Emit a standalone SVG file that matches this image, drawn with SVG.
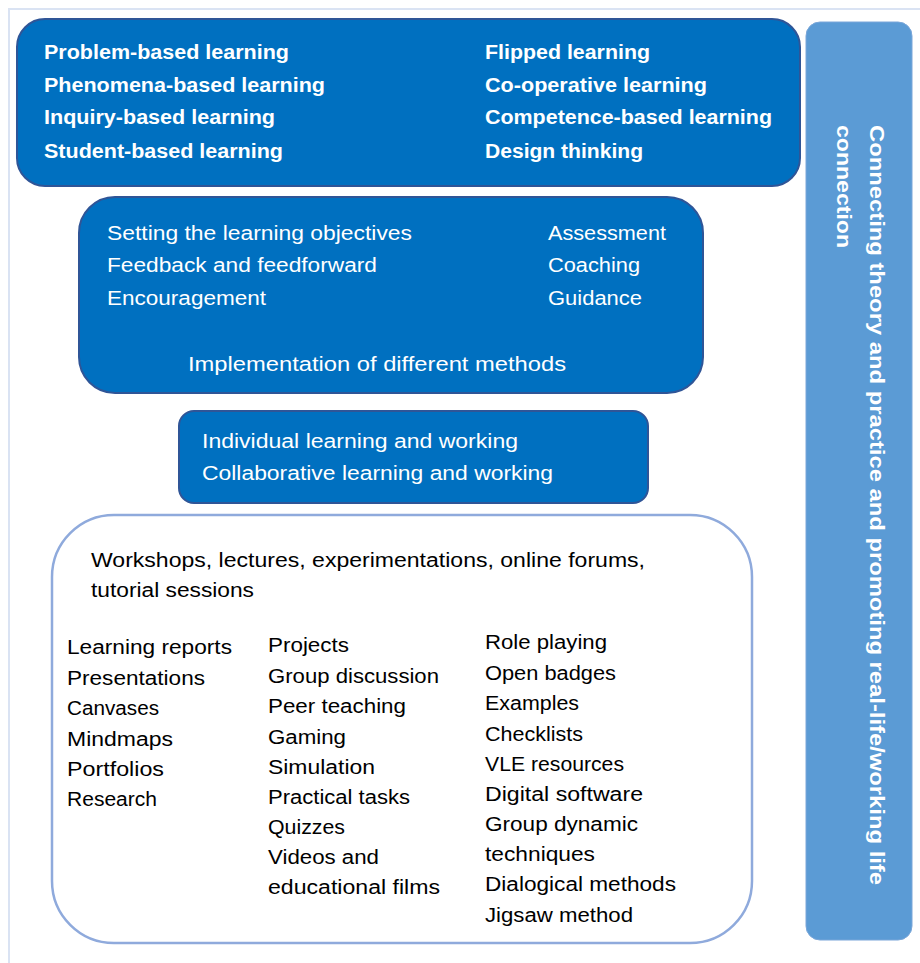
<svg xmlns="http://www.w3.org/2000/svg" width="920" height="963" viewBox="0 0 920 963">
<style>
.dark{fill:#0070c0;stroke:#2f5597;stroke-width:2}
.side{fill:#5b9bd5;stroke:#7aa6d9;stroke-width:1}
.open{fill:#ffffff;stroke:#8faadc;stroke-width:2.5}
text{font-family:"Liberation Sans",Arial,sans-serif;font-size:20px}
.b{font-weight:bold;fill:#ffffff}
.w{fill:#ffffff}
.k{fill:#000000}
</style>
<rect x="0" y="0" width="920" height="963" fill="#ffffff"/>
<path d="M9 963 V9 H920" fill="none" stroke="#dae3f3" stroke-width="2"/>
<g id="approaches">
<rect class="dark" x="17" y="19" width="783" height="167" rx="28"/>
<text class="b" x="44" y="59" textLength="245" lengthAdjust="spacingAndGlyphs">Problem-based learning</text>
<text class="b" x="44" y="92" textLength="281" lengthAdjust="spacingAndGlyphs">Phenomena-based learning</text>
<text class="b" x="44" y="124" textLength="231" lengthAdjust="spacingAndGlyphs">Inquiry-based learning</text>
<text class="b" x="44" y="158" textLength="239" lengthAdjust="spacingAndGlyphs">Student-based learning</text>
<text class="b" x="485" y="59" textLength="165" lengthAdjust="spacingAndGlyphs">Flipped learning</text>
<text class="b" x="485" y="92" textLength="222" lengthAdjust="spacingAndGlyphs">Co-operative learning</text>
<text class="b" x="485" y="124" textLength="287" lengthAdjust="spacingAndGlyphs">Competence-based learning</text>
<text class="b" x="485" y="158" textLength="158" lengthAdjust="spacingAndGlyphs">Design thinking</text>
</g>
<g id="connecting">
<rect class="side" x="806" y="22" width="106" height="918" rx="14"/>
<text class="b" transform="translate(870,125) rotate(90)" x="0" y="0" textLength="760" lengthAdjust="spacingAndGlyphs">Connecting theory and practice and promoting real-life/working life</text>
<text class="b" transform="translate(837,125) rotate(90)" x="0" y="0" textLength="123" lengthAdjust="spacingAndGlyphs">connection</text>
</g>
<g id="teacher">
<rect class="dark" x="79" y="197" width="624" height="196" rx="36"/>
<text class="w" x="107" y="240" textLength="305" lengthAdjust="spacingAndGlyphs">Setting the learning objectives</text>
<text class="w" x="107" y="272" textLength="270" lengthAdjust="spacingAndGlyphs">Feedback and feedforward</text>
<text class="w" x="107" y="305" textLength="159" lengthAdjust="spacingAndGlyphs">Encouragement</text>
<text class="w" x="548" y="240" textLength="118" lengthAdjust="spacingAndGlyphs">Assessment</text>
<text class="w" x="548" y="272" textLength="92" lengthAdjust="spacingAndGlyphs">Coaching</text>
<text class="w" x="548" y="305" textLength="94" lengthAdjust="spacingAndGlyphs">Guidance</text>
<text class="w" x="188" y="371" textLength="378" lengthAdjust="spacingAndGlyphs">Implementation of different methods</text>
</g>
<g id="working">
<rect class="dark" x="179" y="411" width="469" height="92" rx="15"/>
<text class="w" x="202" y="448" textLength="316" lengthAdjust="spacingAndGlyphs">Individual learning and working</text>
<text class="w" x="202" y="480" textLength="351" lengthAdjust="spacingAndGlyphs">Collaborative learning and working</text>
</g>
<g id="methods">
<rect class="open" x="52" y="515" width="700" height="428" rx="62"/>
<text class="k" x="91" y="567" textLength="554" lengthAdjust="spacingAndGlyphs">Workshops, lectures, experimentations, online forums,</text>
<text class="k" x="91" y="597" textLength="163" lengthAdjust="spacingAndGlyphs">tutorial sessions</text>
<text class="k" x="67" y="654" textLength="165" lengthAdjust="spacingAndGlyphs">Learning reports</text>
<text class="k" x="67" y="685" textLength="138" lengthAdjust="spacingAndGlyphs">Presentations</text>
<text class="k" x="67" y="715" textLength="92" lengthAdjust="spacingAndGlyphs">Canvases</text>
<text class="k" x="67" y="746" textLength="106" lengthAdjust="spacingAndGlyphs">Mindmaps</text>
<text class="k" x="67" y="776" textLength="97" lengthAdjust="spacingAndGlyphs">Portfolios</text>
<text class="k" x="67" y="806" textLength="90" lengthAdjust="spacingAndGlyphs">Research</text>
<text class="k" x="268" y="652" textLength="81" lengthAdjust="spacingAndGlyphs">Projects</text>
<text class="k" x="268" y="683" textLength="171" lengthAdjust="spacingAndGlyphs">Group discussion</text>
<text class="k" x="268" y="713" textLength="138" lengthAdjust="spacingAndGlyphs">Peer teaching</text>
<text class="k" x="268" y="744" textLength="78" lengthAdjust="spacingAndGlyphs">Gaming</text>
<text class="k" x="268" y="774" textLength="107" lengthAdjust="spacingAndGlyphs">Simulation</text>
<text class="k" x="268" y="804" textLength="142" lengthAdjust="spacingAndGlyphs">Practical tasks</text>
<text class="k" x="268" y="834" textLength="77" lengthAdjust="spacingAndGlyphs">Quizzes</text>
<text class="k" x="268" y="864" textLength="111" lengthAdjust="spacingAndGlyphs">Videos and</text>
<text class="k" x="268" y="894" textLength="172" lengthAdjust="spacingAndGlyphs">educational films</text>
<text class="k" x="485" y="649" textLength="122" lengthAdjust="spacingAndGlyphs">Role playing</text>
<text class="k" x="485" y="680" textLength="131" lengthAdjust="spacingAndGlyphs">Open badges</text>
<text class="k" x="485" y="710" textLength="94" lengthAdjust="spacingAndGlyphs">Examples</text>
<text class="k" x="485" y="741" textLength="98" lengthAdjust="spacingAndGlyphs">Checklists</text>
<text class="k" x="485" y="771" textLength="139" lengthAdjust="spacingAndGlyphs">VLE resources</text>
<text class="k" x="485" y="801" textLength="158" lengthAdjust="spacingAndGlyphs">Digital software</text>
<text class="k" x="485" y="831" textLength="153" lengthAdjust="spacingAndGlyphs">Group dynamic</text>
<text class="k" x="485" y="861" textLength="110" lengthAdjust="spacingAndGlyphs">techniques</text>
<text class="k" x="485" y="891" textLength="191" lengthAdjust="spacingAndGlyphs">Dialogical methods</text>
<text class="k" x="485" y="922" textLength="148" lengthAdjust="spacingAndGlyphs">Jigsaw method</text>
</g>
</svg>
